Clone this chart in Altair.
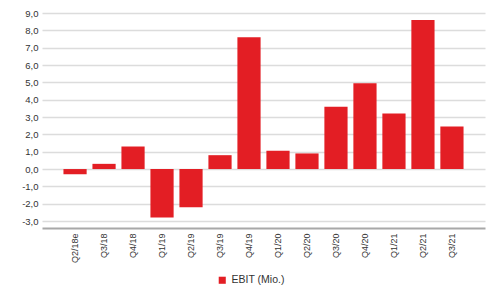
import altair as alt
import pandas as pd

quarters = ["Q2/18e", "Q3/18", "Q4/18", "Q1/19", "Q2/19", "Q3/19", "Q4/19",
            "Q1/20", "Q2/20", "Q3/20", "Q4/20", "Q1/21", "Q2/21", "Q3/21"]
ebit = [-0.3, 0.3, 1.3, -2.8, -2.2, 0.8, 7.6, 1.05, 0.9, 3.6, 4.95, 3.2, 8.6, 2.45]
y_ticks = [-3, -2, -1, 0, 1, 2, 3, 4, 5, 6, 7, 8, 9]
series = ["EBIT (Mio.)"]

df = pd.DataFrame({"Quartal": quarters, "EBIT": ebit, "Serie": series * len(quarters)})

font = "Liberation Sans"

chart = alt.Chart(df).mark_bar(color="#e31e24").encode(
    x=alt.X("Quartal:N", sort=quarters, title=None,
            scale=alt.Scale(paddingInner=0.2, paddingOuter=0.74),
            axis=alt.Axis(labelAngle=-90, labelFontSize=9, labelColor="#333",
                          labelFont=font, ticks=False, domainColor="#a8a8a8",
                          domainWidth=2, labelPadding=5, grid=False)),
    y=alt.Y("EBIT:Q", title=None,
            scale=alt.Scale(domain=[-3.4, 9.0], nice=False, zero=False),
            axis=alt.Axis(values=y_ticks, labelFontSize=9.5, labelColor="#333",
                          labelFont=font, ticks=False, domain=False,
                          gridColor="#dcdcdc", gridWidth=1.5, labelPadding=4,
                          labelExpr="replace(replace(format(datum.value, '.1f'), '.', ','), '\u2212', '-')")),
    color=alt.Color("Serie:N", scale=alt.Scale(range=["#e31e24"]),
                    legend=alt.Legend(title=None, orient="none", legendX=175, legendY=262,
                                      symbolType="square", symbolSize=50, labelFontSize=10.5,
                                      labelFont=font, labelColor="#333", symbolStrokeWidth=0,
                                      labelOffset=4)),
).properties(
    width=443, height=215,
    autosize=alt.AutoSizeParams(type="none"),
    padding={"left": 34, "top": 5, "right": 1, "bottom": 57},
).configure_view(stroke=None)

chart.save("out.html", embed_options={"renderer": "svg", "actions": False})
